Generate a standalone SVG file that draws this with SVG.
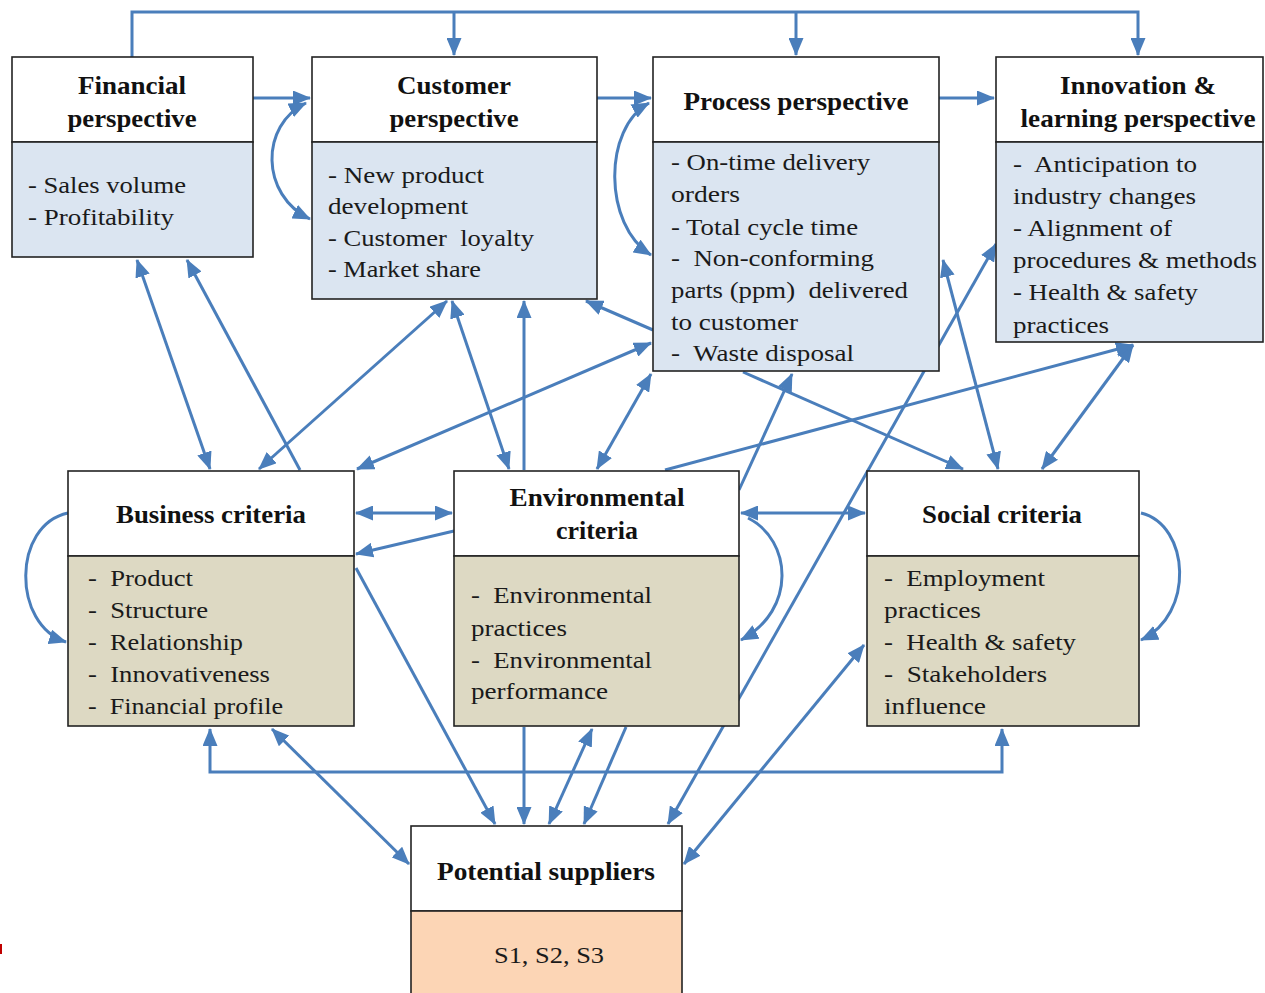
<svg xmlns="http://www.w3.org/2000/svg" width="1265" height="993" viewBox="0 0 1265 993">
<style>
.hd{fill:#ffffff;stroke:#222;stroke-width:1.6}
.pb{fill:#dbe5f1;stroke:#222;stroke-width:1.6}
.cb{fill:#ddd9c3;stroke:#222;stroke-width:1.6}
.sb{fill:#fcd5b5;stroke:#222;stroke-width:1.6}
.t{font-family:"Liberation Serif",serif;font-weight:bold;font-size:25px;fill:#111;text-anchor:middle}
.b{font-family:"Liberation Serif",serif;font-size:24px;fill:#1a1a1a;white-space:pre}
.c{fill:none;stroke:#4a7ebb;stroke-width:3}
</style>
<defs>
<marker id="ah" viewBox="0 0 18 15" refX="17" refY="7.5" markerWidth="18" markerHeight="15" markerUnits="userSpaceOnUse" orient="auto-start-reverse"><path d="M0,0 L18,7.5 L0,15 z" fill="#4a7ebb"/></marker>
</defs>
<rect width="1265" height="993" fill="#ffffff"/>
<rect x="0" y="944" width="2" height="10" fill="#c00000"/>
<g id="connectors">
<path class="c" d="M132,57 V12 H1138 V55" marker-end="url(#ah)"/>
<path class="c" d="M454,12 V55" marker-end="url(#ah)"/>
<path class="c" d="M796,12 V55" marker-end="url(#ah)"/>
<path class="c" d="M253,98 H310" marker-end="url(#ah)"/>
<path class="c" d="M597,98 H651" marker-end="url(#ah)"/>
<path class="c" d="M939,98 H994" marker-end="url(#ah)"/>
<path class="c" d="M306,103 C260,125 260,195 310,219" marker-start="url(#ah)" marker-end="url(#ah)"/>
<path class="c" d="M649,103 C603,128 603,225 651,255" marker-start="url(#ah)" marker-end="url(#ah)"/>
<path class="c" d="M68,513 C12,525 12,625 66,642" marker-end="url(#ah)"/>
<path class="c" d="M748,518 C792,540 797,610 741,640" marker-end="url(#ah)"/>
<path class="c" d="M1141,513 C1190,525 1195,615 1141,640" marker-end="url(#ah)"/>
<path class="c" d="M356,513 H452" marker-start="url(#ah)" marker-end="url(#ah)"/>
<path class="c" d="M741,513 H865" marker-start="url(#ah)" marker-end="url(#ah)"/>
<path class="c" d="M454,531 L356,554" marker-end="url(#ah)"/>
<path class="c" d="M137,260 L210,469" marker-start="url(#ah)" marker-end="url(#ah)"/>
<path class="c" d="M300,470 L187,260" marker-end="url(#ah)"/>
<path class="c" d="M447,301 L259,469" marker-start="url(#ah)" marker-end="url(#ah)"/>
<path class="c" d="M452,301 L509,469" marker-start="url(#ah)" marker-end="url(#ah)"/>
<path class="c" d="M524,470 V301" marker-end="url(#ah)"/>
<path class="c" d="M653,330 L586,301" marker-end="url(#ah)"/>
<path class="c" d="M651,343 L357,469" marker-start="url(#ah)" marker-end="url(#ah)"/>
<path class="c" d="M651,374 L597,469" marker-start="url(#ah)" marker-end="url(#ah)"/>
<path class="c" d="M743,372 L963,469" marker-end="url(#ah)"/>
<path class="c" d="M739,490 L792,374" marker-end="url(#ah)"/>
<path class="c" d="M996,244 L668,824" marker-start="url(#ah)" marker-end="url(#ah)"/>
<path class="c" d="M1133,345 L1042,469" marker-start="url(#ah)" marker-end="url(#ah)"/>
<path class="c" d="M943,260 L998,469" marker-start="url(#ah)" marker-end="url(#ah)"/>
<path class="c" d="M665,470 L1133,345" marker-end="url(#ah)"/>
<path class="c" d="M210,729 V772 H1002 V729" marker-start="url(#ah)" marker-end="url(#ah)"/>
<path class="c" d="M356,568 L495,824" marker-end="url(#ah)"/>
<path class="c" d="M272,729 L409,864" marker-start="url(#ah)" marker-end="url(#ah)"/>
<path class="c" d="M524,727 V824" marker-end="url(#ah)"/>
<path class="c" d="M549,824 L592,729" marker-start="url(#ah)" marker-end="url(#ah)"/>
<path class="c" d="M626,727 L584,824" marker-end="url(#ah)"/>
<path class="c" d="M684,864 L864,645" marker-start="url(#ah)" marker-end="url(#ah)"/>
</g>
<g id="financial">
<rect class="hd" x="12" y="57" width="241" height="85"/>
<rect class="pb" x="12" y="142" width="241" height="115"/>
<text class="t" x="132" y="94" textLength="108" lengthAdjust="spacingAndGlyphs">Financial</text>
<text class="t" x="132" y="127" textLength="129" lengthAdjust="spacingAndGlyphs">perspective</text>
<text class="b" x="28" y="193" textLength="158" lengthAdjust="spacingAndGlyphs">- Sales volume</text>
<text class="b" x="28" y="225" textLength="146" lengthAdjust="spacingAndGlyphs">- Profitability</text>
</g>
<g id="customer">
<rect class="hd" x="312" y="57" width="285" height="85"/>
<rect class="pb" x="312" y="142" width="285" height="157"/>
<text class="t" x="454" y="94" textLength="114" lengthAdjust="spacingAndGlyphs">Customer</text>
<text class="t" x="454" y="127" textLength="129" lengthAdjust="spacingAndGlyphs">perspective</text>
<text class="b" x="328" y="183" textLength="156" lengthAdjust="spacingAndGlyphs">- New product</text>
<text class="b" x="328" y="214" textLength="140" lengthAdjust="spacingAndGlyphs">development</text>
<text class="b" x="328" y="246" textLength="206" lengthAdjust="spacingAndGlyphs">- Customer  loyalty</text>
<text class="b" x="328" y="277" textLength="153" lengthAdjust="spacingAndGlyphs">- Market share</text>
</g>
<g id="process">
<rect class="hd" x="653" y="57" width="286" height="85"/>
<rect class="pb" x="653" y="142" width="286" height="229"/>
<text class="t" x="796" y="110" textLength="225" lengthAdjust="spacingAndGlyphs">Process perspective</text>
<text class="b" x="671" y="170" textLength="199" lengthAdjust="spacingAndGlyphs">- On-time delivery</text>
<text class="b" x="671" y="202" textLength="69" lengthAdjust="spacingAndGlyphs">orders</text>
<text class="b" x="671" y="235" textLength="187" lengthAdjust="spacingAndGlyphs">- Total cycle time</text>
<text class="b" x="671" y="266" textLength="203" lengthAdjust="spacingAndGlyphs">-  Non-conforming</text>
<text class="b" x="671" y="298" textLength="237" lengthAdjust="spacingAndGlyphs">parts (ppm)  delivered</text>
<text class="b" x="671" y="330" textLength="127" lengthAdjust="spacingAndGlyphs">to customer</text>
<text class="b" x="671" y="361" textLength="183" lengthAdjust="spacingAndGlyphs">-  Waste disposal</text>
</g>
<g id="innovation">
<rect class="hd" x="996" y="57" width="267" height="85"/>
<rect class="pb" x="996" y="142" width="267" height="200"/>
<text class="t" x="1138" y="94" textLength="156" lengthAdjust="spacingAndGlyphs">Innovation &amp;</text>
<text class="t" x="1138" y="127" textLength="235" lengthAdjust="spacingAndGlyphs">learning perspective</text>
<text class="b" x="1013" y="172" textLength="184" lengthAdjust="spacingAndGlyphs">-  Anticipation to</text>
<text class="b" x="1013" y="204" textLength="183" lengthAdjust="spacingAndGlyphs">industry changes</text>
<text class="b" x="1013" y="236" textLength="159" lengthAdjust="spacingAndGlyphs">- Alignment of</text>
<text class="b" x="1013" y="268" textLength="244" lengthAdjust="spacingAndGlyphs">procedures &amp; methods</text>
<text class="b" x="1013" y="300" textLength="185" lengthAdjust="spacingAndGlyphs">- Health &amp; safety</text>
<text class="b" x="1013" y="333" textLength="96" lengthAdjust="spacingAndGlyphs">practices</text>
</g>
<g id="business">
<rect class="hd" x="68" y="471" width="286" height="85"/>
<rect class="cb" x="68" y="556" width="286" height="170"/>
<text class="t" x="211" y="523" textLength="190" lengthAdjust="spacingAndGlyphs">Business criteria</text>
<text class="b" x="88" y="586" textLength="105" lengthAdjust="spacingAndGlyphs">-  Product</text>
<text class="b" x="88" y="618" textLength="120" lengthAdjust="spacingAndGlyphs">-  Structure</text>
<text class="b" x="88" y="650" textLength="155" lengthAdjust="spacingAndGlyphs">-  Relationship</text>
<text class="b" x="88" y="682" textLength="182" lengthAdjust="spacingAndGlyphs">-  Innovativeness</text>
<text class="b" x="88" y="714" textLength="195" lengthAdjust="spacingAndGlyphs">-  Financial profile</text>
</g>
<g id="environmental">
<rect class="hd" x="454" y="471" width="285" height="85"/>
<rect class="cb" x="454" y="556" width="285" height="170"/>
<text class="t" x="597" y="506" textLength="175" lengthAdjust="spacingAndGlyphs">Environmental</text>
<text class="t" x="597" y="539" textLength="82" lengthAdjust="spacingAndGlyphs">criteria</text>
<text class="b" x="471" y="603" textLength="181" lengthAdjust="spacingAndGlyphs">-  Environmental</text>
<text class="b" x="471" y="636" textLength="96" lengthAdjust="spacingAndGlyphs">practices</text>
<text class="b" x="471" y="668" textLength="181" lengthAdjust="spacingAndGlyphs">-  Environmental</text>
<text class="b" x="471" y="699" textLength="137" lengthAdjust="spacingAndGlyphs">performance</text>
</g>
<g id="social">
<rect class="hd" x="867" y="471" width="272" height="85"/>
<rect class="cb" x="867" y="556" width="272" height="170"/>
<text class="t" x="1002" y="523" textLength="160" lengthAdjust="spacingAndGlyphs">Social criteria</text>
<text class="b" x="884" y="586" textLength="161" lengthAdjust="spacingAndGlyphs">-  Employment</text>
<text class="b" x="884" y="618" textLength="97" lengthAdjust="spacingAndGlyphs">practices</text>
<text class="b" x="884" y="650" textLength="192" lengthAdjust="spacingAndGlyphs">-  Health &amp; safety</text>
<text class="b" x="884" y="682" textLength="163" lengthAdjust="spacingAndGlyphs">-  Stakeholders</text>
<text class="b" x="884" y="714" textLength="102" lengthAdjust="spacingAndGlyphs">influence</text>
</g>
<g id="suppliers">
<rect class="hd" x="411" y="826" width="271" height="85"/>
<rect class="sb" x="411" y="911" width="271" height="90"/>
<text class="t" x="546" y="880" textLength="218" lengthAdjust="spacingAndGlyphs">Potential suppliers</text>
<text class="b" x="549" y="963" text-anchor="middle" textLength="110" lengthAdjust="spacingAndGlyphs">S1, S2, S3</text>
</g>
</svg>
